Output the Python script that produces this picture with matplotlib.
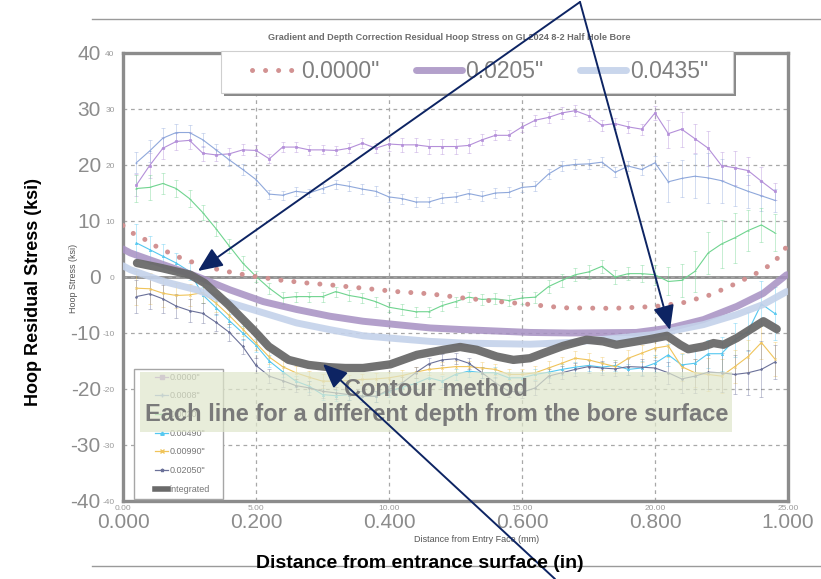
import matplotlib.pyplot as plt
from matplotlib.lines import Line2D
from matplotlib.patches import Rectangle, FancyArrowPatch

# inner chart: depth series, distance in mm, hoop stress in ksi
dist_mm = [0.5, 1.0, 1.5, 2.0, 2.5, 3.0, 3.5, 4.0, 4.5, 5.0,
           5.5, 6.0, 6.5, 7.0, 7.5, 8.0, 8.5, 9.0, 9.5, 10.0,
           10.5, 11.0, 11.5, 12.0, 12.5, 13.0, 13.5, 14.0, 14.5, 15.0,
           15.5, 16.0, 16.5, 17.0, 17.5, 18.0, 18.5, 19.0, 19.5, 20.0,
           20.5, 21.0, 21.5, 22.0, 22.5, 23.0, 23.5, 24.0, 24.5]

s_00000 = [16.4, 19.9, 23.0, 24.2, 24.4, 22.1, 21.8, 22.0, 22.7, 22.6,
           21.1, 23.2, 23.2, 22.7, 22.7, 22.6, 23.0, 23.9, 23.0, 23.75,
           23.6, 23.6, 23.3, 23.3, 23.3, 23.5, 24.5, 25.3, 25.3, 26.8,
           28.0, 28.5, 29.3, 29.7, 28.8, 27.1, 27.4, 26.8, 26.4, 29.3,
           25.6, 26.4, 24.7, 23.0, 19.9, 19.5, 19.0, 17.1, 15.3]
s_00008 = [20.4, 22.5, 24.8, 25.8, 25.8, 24.5, 22.7, 20.9, 19.2, 17.4,
           14.8, 14.6, 15.3, 15.0, 15.8, 16.6, 16.2, 15.7, 15.3, 14.3,
           14.0, 13.4, 13.4, 14.1, 14.3, 14.9, 14.4, 15.0, 15.1, 16.0,
           16.2, 18.4, 19.8, 20.1, 20.2, 20.5, 18.7, 19.8, 19.2, 20.4,
           17.0, 17.6, 18.0, 17.7, 17.2, 16.2, 15.3, 14.5, 13.7]
s_00020 = [15.8, 16.0, 16.7, 15.8, 14.0, 11.5, 8.6, 5.5, 2.5, 0.1,
           -2.0, -3.75, -3.5, -3.5, -3.5, -2.6, -3.3, -3.7, -4.4, -5.4,
           -5.8, -6.2, -6.2, -5.1, -4.4, -3.6, -4.0, -3.9, -4.2, -3.75,
           -3.6, -1.7, -0.6, 0.4, 0.9, 1.9, 0.0, 0.6, 0.6, 0.4,
           -0.8, -0.6, 1.0, 4.3, 5.9, 7.0, 8.3, 9.3, 7.9]
s_00490 = [6.1, 4.9, 3.7, 2.5, 1.0, -3.2, -5.5, -7.8, -10.0, -12.2,
           -15.0, -16.9, -18.6, -19.5, -21.0, -21.2, -21.0, -21.3, -21.3, -20.4,
           -19.7, -19.0, -18.0, -18.6, -17.4, -16.8, -17.1, -17.1, -18.0, -18.0,
           -17.4, -17.0, -16.5, -16.1, -15.8, -16.1, -15.8, -16.5, -16.25, -15.4,
           -13.9, -15.7, -15.4, -13.7, -13.7, -11.2, -9.7, -4.8, -6.5]
s_00990 = [-2.0, -2.1, -2.9, -3.3, -3.2, -2.8, -4.7, -6.9, -9.3, -11.8,
           -14.3, -16.0, -17.1, -17.9, -18.6, -18.6, -18.5, -18.3, -18.2, -18.0,
           -17.6, -17.0, -16.5, -16.25, -16.0, -16.0, -16.25, -16.5, -17.4, -17.4,
           -17.1, -16.25, -15.4, -14.5, -14.8, -15.4, -16.0, -14.5, -13.6, -12.7,
           -12.3, -16.0, -17.1, -17.4, -17.7, -16.0, -14.2, -11.7, -14.6]
s_02050 = [-3.5, -3.0, -3.9, -5.2, -6.0, -6.5, -8.1, -9.9, -12.4, -15.8,
           -17.7, -18.5, -19.4, -19.8, -20.4, -20.7, -21.0, -21.3, -21.3, -20.1,
           -18.9, -17.1, -15.5, -14.8, -14.6, -15.4, -17.1, -18.9, -20.4, -20.6,
           -19.8, -17.7, -17.1, -16.5, -16.0, -16.25, -16.4, -16.0, -16.1, -16.25,
           -17.1, -18.2, -17.7, -17.0, -17.1, -17.4, -17.1, -16.5, -15.2]

# error bar half widths (ksi)
e_00000 = [2.0, 2.2, 2.0, 1.6, 1.5, 1.3, 1.0, 1.0, 1.0, 1.0,
           0.8, 0.9, 0.9, 0.9, 0.8, 0.8, 0.9, 0.9, 0.9, 1.2,
           1.2, 1.2, 1.3, 1.3, 1.4, 1.3, 1.0, 0.9, 0.9, 0.9,
           1.0, 1.0, 1.0, 1.0, 1.0, 1.0, 1.0, 1.0, 1.0, 1.3,
           2.5, 3.1, 2.6, 3.1, 2.5, 3.0, 2.5, 2.5, 1.5]
e_00008 = [1.9, 1.9, 1.8, 1.5, 1.3, 1.2, 1.0, 1.0, 1.0, 1.0,
           0.8, 0.8, 0.8, 0.8, 0.8, 0.8, 0.9, 0.9, 0.9, 0.9,
           0.9, 0.9, 0.9, 0.9, 0.9, 0.9, 0.9, 0.9, 0.9, 0.9,
           0.9, 0.9, 0.9, 0.9, 0.9, 0.9, 0.9, 0.9, 0.9, 1.2,
           3.6, 3.3, 3.9, 4.5, 3.9, 3.5, 3.0, 2.7, 2.1]
e_00020 = [2.4, 2.2, 1.9, 1.5, 1.5, 1.4, 1.3, 1.2, 1.2, 1.0,
           1.0, 1.0, 0.9, 0.9, 0.9, 0.9, 0.9, 0.9, 0.9, 0.9,
           0.9, 0.9, 0.9, 0.9, 0.9, 0.9, 1.0, 1.0, 1.0, 1.0,
           1.0, 1.2, 1.2, 1.2, 1.2, 1.2, 1.2, 1.2, 1.5, 1.8,
           2.5, 3.0, 3.7, 3.7, 4.3, 4.5, 3.7, 3.0, 3.3]
e_00490 = [3.3, 2.5, 2.2, 1.8, 1.5, 1.5, 1.3, 1.2, 1.2, 1.2,
           1.1, 1.0, 1.0, 1.0, 1.0, 1.0, 1.0, 1.0, 1.0, 1.0,
           1.0, 1.0, 1.0, 1.0, 1.0, 1.0, 1.0, 1.0, 1.0, 1.0,
           1.0, 1.0, 1.0, 1.0, 1.0, 1.0, 1.0, 1.0, 1.2, 1.5,
           2.0, 2.0, 2.5, 2.5, 3.0, 3.0, 3.5, 4.0, 4.8]
e_00990 = [3.0, 2.8, 2.5, 2.2, 2.0, 1.8, 1.5, 1.5, 1.3, 1.3,
           1.3, 1.2, 1.2, 1.2, 1.2, 1.0, 1.0, 1.0, 1.0, 1.0,
           1.0, 1.0, 1.0, 1.0, 1.0, 1.0, 1.0, 1.0, 1.0, 1.0,
           1.2, 1.2, 1.2, 1.2, 1.2, 1.2, 1.2, 1.5, 1.5, 1.5,
           2.0, 2.5, 2.5, 3.0, 3.0, 3.0, 3.0, 3.0, 3.0]
e_02050 = [3.0, 2.8, 2.5, 2.2, 2.0, 1.8, 1.5, 1.5, 1.3, 1.3,
           1.3, 1.2, 1.2, 1.2, 1.2, 1.0, 1.0, 1.0, 1.0, 1.0,
           1.0, 1.0, 1.0, 1.0, 1.0, 1.0, 1.0, 1.0, 1.0, 1.0,
           1.2, 1.2, 1.2, 1.2, 1.2, 1.2, 1.2, 1.5, 1.5, 1.5,
           2.0, 2.5, 3.0, 3.0, 3.5, 3.5, 4.0, 5.0, 3.0]

depth_labels = ['0.0000"', '0.0008"', '0.0020"', '0.00490"', '0.00990"', '0.02050"']
depth_colors = ['#b48fd9', '#8fa8db', '#6fd48f', '#55c8f0', '#f0c45a', '#6b7199']
depth_markers = ['s', '+', '_', '^', 'x', '*']

# outer chart: distance in inches
pink_x = [0.000, 0.008, 0.021, 0.033, 0.043, 0.056, 0.068, 0.081, 0.093, 0.106,
          0.118, 0.168, 0.198, 0.239, 0.279, 0.311, 0.361, 0.411, 0.461, 0.512,
          0.562, 0.612, 0.662, 0.737, 0.802, 0.842, 0.883, 0.923, 0.953, 0.978,
          0.993, 1.000]
pink_y = [9.2, 8.3, 7.4, 6.7, 5.8, 5.2, 4.4, 3.7, 3.1, 2.6,
          2.0, 0.7, 0.1, -0.6, -1.1, -1.4, -2.0, -2.6, -3.0, -3.75,
          -4.35, -4.9, -5.5, -5.6, -5.25, -4.6, -3.2, -1.1, 0.7, 2.5,
          4.6, 5.8]
purple_x = [0.000, 0.011, 0.061, 0.111, 0.161, 0.211, 0.261, 0.311, 0.361, 0.411,
            0.462, 0.512, 0.612, 0.672, 0.772, 0.823, 0.873, 0.923, 0.963, 0.998]
purple_y = [5.0, 4.3, 2.2, 0.1, -2.3, -4.4, -5.8, -7.0, -7.9, -8.5,
            -9.1, -9.4, -9.9, -10.0, -9.9, -9.1, -7.6, -5.25, -2.9, 0.4]
lblue_x = [0.000, 0.011, 0.061, 0.111, 0.161, 0.211, 0.261, 0.311, 0.361, 0.411,
           0.462, 0.512, 0.612, 0.672, 0.797, 0.873, 0.923, 0.963, 0.998]
lblue_y = [2.0, 1.3, -0.8, -2.3, -4.6, -6.4, -8.2, -9.4, -10.5, -11.0,
           -11.5, -11.8, -12.0, -11.7, -10.3, -8.5, -6.7, -4.9, -2.6]
integ_x = [0.021, 0.058, 0.101, 0.123, 0.158, 0.198, 0.219, 0.249, 0.279, 0.309,
           0.334, 0.361, 0.402, 0.442, 0.482, 0.507, 0.532, 0.562, 0.587, 0.612,
           0.632, 0.662, 0.687, 0.697, 0.722, 0.742, 0.762, 0.792, 0.818, 0.838,
           0.850, 0.873, 0.888, 0.903, 0.923, 0.943, 0.963, 0.983]
integ_y = [2.5, 1.6, 0.4, -1.1, -4.9, -9.7, -12.4, -14.8, -15.7, -16.1,
           -16.25, -16.25, -15.6, -13.9, -13.0, -12.5, -13.0, -14.2, -14.8, -14.5,
           -13.6, -12.3, -11.5, -11.2, -11.5, -12.1, -11.7, -11.1, -10.5, -12.1,
           -12.9, -12.4, -11.8, -12.1, -10.9, -9.4, -7.9, -9.3]

W, H = 821, 579


def fx(x):
    return x / W


def fy(y):
    return 1 - y / H


NARROW = ['Liberation Sans Narrow', 'Liberation Sans', 'DejaVu Sans']
plt.rcParams['font.family'] = ['Liberation Sans', 'DejaVu Sans']

fig = plt.figure(figsize=(W / 100, H / 100), dpi=100)
rect = [fx(123), fy(501), fx(788) - fx(123), fy(53) - fy(501)]

# ---- inner chart (mm) ----
ax_in = fig.add_axes(rect, zorder=1)
ax_in.set_xlim(0, 25)
ax_in.set_ylim(-40, 40)
ax_in.set_xticks([0, 5, 10, 15, 20, 25])
ax_in.set_xticklabels(['0.00', '5.00', '10.00', '15.00', '20.00', '25.00'], family=NARROW)
ax_in.set_yticks(range(-40, 41, 10))
ax_in.set_yticklabels([str(v) for v in range(-40, 41, 10)], family=NARROW)
ax_in.tick_params(length=0, labelsize=6, colors='#9a9a9a')
ax_in.tick_params(axis='y', pad=6)
ax_in.tick_params(axis='x', pad=3)
ax_in.grid(True, linestyle=(0, (3, 3)), color='#a8a8a8', lw=0.9)
for sp in ax_in.spines.values():
    sp.set_color('#8c8c8c')
    sp.set_linewidth(2.4)
ax_in.axhline(0, color='#8c8c8c', lw=2, zorder=1)

series = [s_00000, s_00008, s_00020, s_00490, s_00990, s_02050]
errs = [e_00000, e_00008, e_00020, e_00490, e_00990, e_02050]
for ys, es, c, m in zip(series, errs, depth_colors, depth_markers):
    ax_in.errorbar(dist_mm, ys, yerr=es, fmt='none', ecolor=c, alpha=0.4,
                   elinewidth=0.7, capsize=1.6, capthick=0.7, zorder=2)
    ax_in.plot(dist_mm, ys, color=c, lw=0.8, marker=m, ms=1.6, mew=0.5, zorder=3)

# ---- outer chart (inches) ----
ax_out = fig.add_axes(rect, zorder=2, frameon=False)
ax_out.patch.set_alpha(0)
ax_out.set_xlim(0, 1)
ax_out.set_ylim(-40, 40)
ax_out.set_xticks([0, 0.2, 0.4, 0.6, 0.8, 1.0])
ax_out.set_xticklabels(['0.000', '0.200', '0.400', '0.600', '0.800', '1.000'])
ax_out.set_yticks(range(-40, 41, 10))
ax_out.set_yticklabels([str(v) for v in range(-40, 41, 10)], family=NARROW)
ax_out.tick_params(length=0, labelsize=15, colors='#8c8c8c')
ax_out.tick_params(axis='y', pad=16)
ax_out.tick_params(axis='x', pad=9)

h_pink, = ax_out.plot(pink_x, pink_y, color='#d29292', lw=3.6, linestyle=(0, (0.01, 2.6)),
                      solid_capstyle='round', dash_capstyle='round', label='0.0000"')
h_purple, = ax_out.plot(purple_x, purple_y, color='#a690c2', lw=5, alpha=0.85,
                        solid_capstyle='round', label='0.0205"')
h_lblue, = ax_out.plot(lblue_x, lblue_y, color='#c4d2ea', lw=5, alpha=0.9,
                       solid_capstyle='round', label='0.0435"')
h_integ, = ax_out.plot(integ_x, integ_y, color='#6a6a6a', lw=6, alpha=0.95,
                       solid_capstyle='round', solid_joinstyle='round', label='integrated')

# ---- texts ----
fig.text(fx(449), fy(37), 'Gradient and Depth Correction Residual Hoop Stress on GL2024 8-2 Half Hole Bore',
         ha='center', va='center', fontsize=6.6, fontweight='bold', color='#6d6d6d', family=NARROW)
fig.text(fx(477), fy(540), 'Distance from Entry Face (mm)', ha='center', va='center',
         fontsize=6.5, color='#555555', family=NARROW)
fig.text(fx(74), fy(278), 'Hoop Stress (ksi)', ha='center', va='center', rotation=90,
         fontsize=6.5, color='#555555', family=NARROW)
fig.text(fx(420), fy(564), 'Distance from entrance surface (in)', ha='center', va='center',
         fontsize=14, fontweight='bold', color='black', zorder=6)
fig.text(fx(33), fy(292), 'Hoop Residual Stress (ksi)', ha='center', va='center', rotation=90,
         fontsize=13, fontweight='bold', color='black')

# frame lines of the pasted picture
fig.add_artist(Line2D([fx(92), 1], [fy(19), fy(19)], color='#9a9a9a', lw=1, zorder=0.5))
fig.add_artist(Line2D([fx(92), 1], [fy(566), fy(566)], color='#9a9a9a', lw=1, zorder=0.5))

# ---- top legend box ----
fig.add_artist(Rectangle((fx(224), fy(96)), fx(733) - fx(221), fy(51) - fy(93),
                         facecolor='#8a8a8a', edgecolor='none', zorder=2.5))
fig.add_artist(Rectangle((fx(221), fy(93)), fx(733) - fx(221), fy(51) - fy(93),
                         facecolor='white', edgecolor='#cfcfcf', lw=0.8, zorder=2.6))
leg_top = fig.legend(handles=[h_pink, h_purple, h_lblue], loc='center',
                     bbox_to_anchor=(fx(480), fy(72)), ncol=3, frameon=False,
                     fontsize=16.5, handlelength=2.0, handletextpad=0.15, columnspacing=1.6,
                     labelcolor='#7f7f7f')
leg_top.set_zorder(2.7)

# ---- inner legend ----
fig.add_artist(Rectangle((fx(134), fy(499)), fx(223) - fx(134), fy(369) - fy(499),
                         facecolor='white', edgecolor='#a6a6a6', lw=1, zorder=2.75))
inner_handles = [Line2D([], [], color=c, marker=m, ms=2.5, lw=0.9, label=l)
                 for c, m, l in zip(depth_colors, depth_markers, depth_labels)]
inner_handles.append(Line2D([], [], color='#6a6a6a', lw=4, label='integrated'))
leg_in = fig.legend(handles=inner_handles, loc='upper left', bbox_to_anchor=(fx(153), fy(371)),
                    borderaxespad=0, labelspacing=1.07, handlelength=1.5,
                    handletextpad=0.1, borderpad=0.2, frameon=False,
                    labelcolor='#777777', prop={'family': NARROW, 'size': 6.5})
leg_in.set_zorder(2.8)

# ---- green annotation box ----
fig.add_artist(Rectangle((fx(140), fy(432)), fx(732) - fx(140), fy(372) - fy(432),
                         facecolor='#dfe6cb', edgecolor='none', alpha=0.7, zorder=3))
fig.text(fx(436), fy(390), 'Contour method', ha='center', va='center', fontsize=17,
         fontweight='bold', color='#7a7a7a', zorder=4)
fig.text(fx(437), fy(415), 'Each line for a different depth from the bore surface', ha='center',
         va='center', fontsize=17, fontweight='bold', color='#7a7a7a', zorder=4)

# ---- arrows ----
for start, end in [((580, 2), (198, 271)), ((580, 2), (670, 330)), ((555, 579), (323, 364))]:
    arr = FancyArrowPatch((fx(start[0]), fy(start[1])), (fx(end[0]), fy(end[1])),
                          transform=fig.transFigure, arrowstyle='-|>,head_length=1.5,head_width=0.65',
                          mutation_scale=10, color='#0d2463', lw=1.4, shrinkA=0, shrinkB=0, zorder=5)
    fig.add_artist(arr)

fig.savefig('out.png', dpi=100)
